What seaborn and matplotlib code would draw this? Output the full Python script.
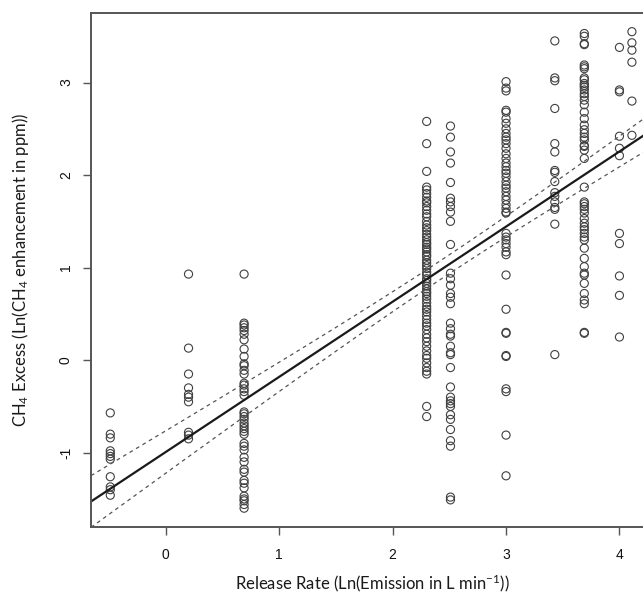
import numpy as np
import pandas as pd
import matplotlib
matplotlib.use("Agg")
import matplotlib.pyplot as plt
import seaborn as sns

# ---- data (ln release rate, ln CH4 excess) ----
release_levels = [-0.49, 0.20, 0.69, 2.30, 2.51, 3.00, 3.43, 3.69, 4.00, 4.11]

excess_a = [-0.57, -0.80, -0.84, -0.98, -1.01, -1.04, -1.07, -1.26, -1.37, -1.40, -1.46]
excess_b = [0.93, 0.13, -0.15, -0.30, -0.37, -0.40, -0.45, -0.78, -0.81, -0.85]
excess_c = [0.93, 0.40, 0.38, 0.35, 0.32, 0.28, 0.22, 0.12, 0.04, -0.04, -0.06, -0.11,
            -0.15, -0.25, -0.27, -0.31, -0.34, -0.38, -0.56, -0.58, -0.61, -0.64, -0.68,
            -0.71, -0.74, -0.77, -0.80, -0.90, -0.93, -0.97, -1.05, -1.10, -1.18, -1.21,
            -1.30, -1.33, -1.38, -1.47, -1.50, -1.52, -1.56, -1.60]
excess_d = [2.58, 2.34, 2.04, 1.87, 1.84, 1.80, 1.76, 1.72, 1.70, 1.66, 1.62, 1.58, 1.55,
            1.50, 1.46, 1.43, 1.40, 1.36, 1.33, 1.30, 1.27, 1.25, 1.22, 1.20, 1.17, 1.14,
            1.12, 1.08, 1.05, 1.02, 0.99, 0.95, 0.92, 0.88, 0.86, 0.83, 0.80, 0.77, 0.74,
            0.72, 0.69, 0.66, 0.62, 0.58, 0.55, 0.52, 0.48, 0.44, 0.40, 0.37, 0.33, 0.28,
            0.24, 0.20, 0.15, 0.10, 0.05, 0.02, -0.03, -0.08, -0.12, -0.15, -0.50, -0.61]
excess_e = [2.53, 2.41, 2.25, 2.13, 1.92, 1.75, 1.71, 1.66, 1.60, 1.50, 1.25, 0.94, 0.88,
            0.81, 0.72, 0.68, 0.61, 0.40, 0.34, 0.28, 0.26, 0.15, 0.08, 0.06, -0.08, -0.29,
            -0.40, -0.44, -0.47, -0.50, -0.59, -0.64, -0.75, -0.87, -0.93, -1.48, -1.51]
excess_f = [3.01, 2.94, 2.91, 2.70, 2.68, 2.61, 2.56, 2.50, 2.45, 2.41, 2.38, 2.34, 2.29,
            2.23, 2.18, 2.13, 2.09, 2.05, 2.02, 1.98, 1.93, 1.89, 1.86, 1.82, 1.77, 1.73,
            1.68, 1.64, 1.60, 1.59, 1.37, 1.33, 1.30, 1.26, 1.22, 1.17, 1.14, 0.92, 0.55,
            0.30, 0.29, 0.05, 0.04, -0.31, -0.34, -0.81, -1.25]
excess_g = [3.45, 3.05, 3.02, 2.72, 2.34, 2.25, 2.05, 2.03, 1.93, 1.81, 1.77, 1.71, 1.65,
            1.63, 1.47, 0.06]
excess_h = [3.53, 3.50, 3.42, 3.41, 3.19, 3.17, 3.15, 3.05, 3.03, 2.99, 2.97, 2.95, 2.92,
            2.88, 2.85, 2.81, 2.76, 2.68, 2.61, 2.54, 2.49, 2.45, 2.41, 2.38, 2.32, 2.31,
            2.27, 2.18, 1.87, 1.71, 1.69, 1.66, 1.63, 1.59, 1.53, 1.48, 1.44, 1.41, 1.37,
            1.33, 1.30, 1.21, 1.10, 1.01, 0.94, 0.92, 0.83, 0.72, 0.65, 0.61, 0.30, 0.29]
excess_i = [3.38, 2.92, 2.90, 2.42, 2.29, 2.21, 1.37, 1.26, 0.91, 0.70, 0.25]
excess_j = [3.55, 3.43, 3.35, 3.22, 2.80, 2.43]

x_ticks = [0, 1, 2, 3, 4]
y_ticks = [-1, 0, 1, 2, 3]
x_label = r"Release Rate (Ln(Emission in L min$^{-1}$))"
y_label = r"CH$_4$ Excess (Ln(CH$_4$ enhancement in ppm))"

groups = [excess_a, excess_b, excess_c, excess_d, excess_e,
          excess_f, excess_g, excess_h, excess_i, excess_j]
df = pd.DataFrame({
    "rate": np.concatenate([[lv] * len(g) for lv, g in zip(release_levels, groups)]),
    "excess": np.concatenate(groups),
})

# ---- ordinary least squares fit with 95% confidence band ----
x = df["rate"].to_numpy()
y = df["excess"].to_numpy()
n = len(x)
slope, intercept = np.polyfit(x, y, 1)
resid = y - (intercept + slope * x)
s = np.sqrt(np.sum(resid ** 2) / (n - 2))
xm = x.mean()
sxx = np.sum((x - xm) ** 2)
t95 = 1.968

xlo, xhi = -0.66, 4.30
grid = np.linspace(xlo, xhi, 300)
fit = intercept + slope * grid
half = t95 * s * np.sqrt(1.0 / n + (grid - xm) ** 2 / sxx)
fit_df = pd.DataFrame({"rate": grid, "fit": fit, "upper": fit + half, "lower": fit - half})

# ---- figure ----
sns.set_theme(style="ticks")
plt.rcParams["axes.unicode_minus"] = False
plt.rcParams["mathtext.fontset"] = "custom"
plt.rcParams["mathtext.rm"] = "Lato"
plt.rcParams["mathtext.it"] = "Lato:italic"
plt.rcParams["mathtext.bf"] = "Lato:bold"

W, H = 643, 594
fig = plt.figure(figsize=(W / 100, H / 100), dpi=100)
left_px, top_px, bottom_px = 91, 12.7, 526.7
ppu_x = 113.4
ax_w_px = (xhi - xlo) * ppu_x
ax = fig.add_axes([left_px / W, 1 - bottom_px / H, ax_w_px / W, (bottom_px - top_px) / H])

sns.scatterplot(data=df, x="rate", y="excess", ax=ax, marker="o", s=34,
                facecolor="none", edgecolor="#404040", linewidth=0.8, legend=False)
sns.lineplot(data=fit_df, x="rate", y="fit", ax=ax, color="#1a1a1a", linewidth=1.6)
sns.lineplot(data=fit_df, x="rate", y="upper", ax=ax, color="#555555", linewidth=0.9,
             linestyle=(0, (3, 3)))
sns.lineplot(data=fit_df, x="rate", y="lower", ax=ax, color="#555555", linewidth=0.9,
             linestyle=(0, (3, 3)))

ax.set_xlim(xlo, xhi)
ax.set_ylim(-1.80, 3.755)
ax.set_xticks(x_ticks)
ax.set_yticks(y_ticks)
ax.set_xticklabels([str(v) for v in x_ticks], fontfamily="Liberation Sans", fontsize=10)
ax.set_yticklabels([str(v) for v in y_ticks], fontfamily="Liberation Sans", fontsize=10,
                   rotation=90, va="center")
ax.tick_params(axis="both", length=6, width=1.0, color="#555555", labelcolor="#111111",
               direction="out")
ax.tick_params(axis="x", pad=9)
ax.tick_params(axis="y", pad=7)

for side in ["left", "bottom", "top", "right"]:
    ax.spines[side].set_color("#555555")
    ax.spines[side].set_linewidth(1.4)

ax.set_xlabel(x_label, fontfamily="Lato", fontsize=12, color="#1a1a1a")
ax.set_ylabel(y_label, fontfamily="Lato", fontsize=12, color="#1a1a1a")
ax.xaxis.set_label_coords(0.5, -(583 - bottom_px) / (bottom_px - top_px))
ax.xaxis.label.set_va("center")
ax.yaxis.set_label_coords(-(left_px - 21) / ax_w_px, 0.5)
ax.yaxis.label.set_va("center")

fig.savefig("out.png", dpi=100, facecolor="white")
